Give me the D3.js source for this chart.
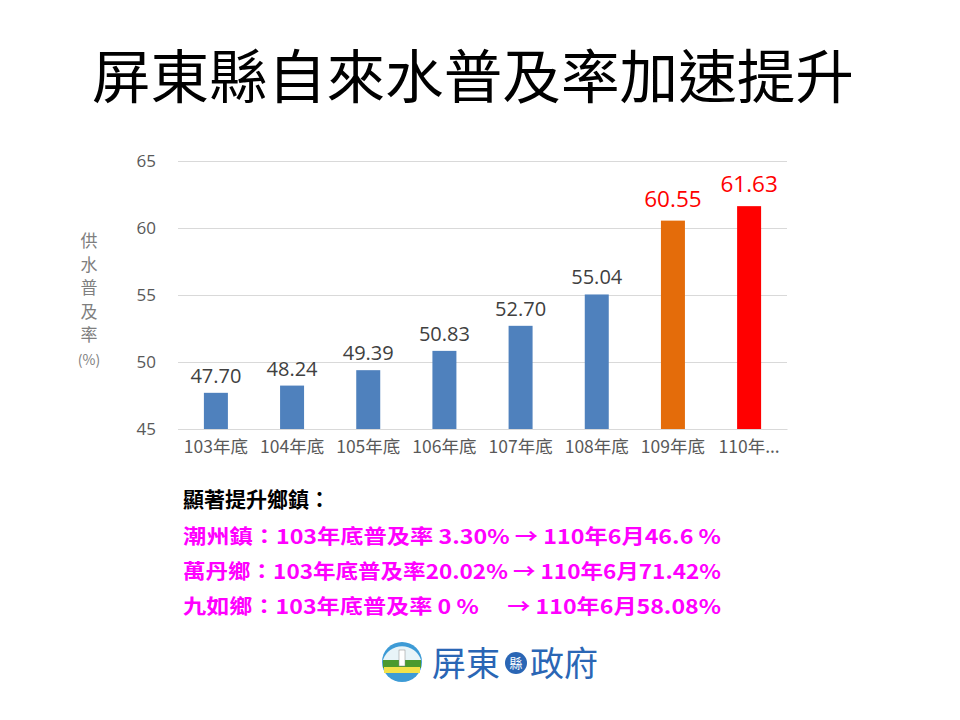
<!DOCTYPE html>
<html><head><meta charset="utf-8">
<script src="https://cdn.jsdelivr.net/npm/d3@7"></script>
<style>body{margin:0;background:#fff;}svg{display:block;}</style>
</head><body>
<script>
const categories = ["103年底","104年底","105年底","106年底","107年底","108年底","109年底","110年..."];
const values = [47.70, 48.24, 49.39, 50.83, 52.70, 55.04, 60.55, 61.63];
const barColors = ["#4f81bd","#4f81bd","#4f81bd","#4f81bd","#4f81bd","#4f81bd","#e46c0a","#ff0000"];
const labelColors = ["#404040","#404040","#404040","#404040","#404040","#404040","#ff0000","#ff0000"];
const yTicks = [45, 50, 55, 60, 65];
const title = "屏東縣自來水普及率加速提升";
const yLabelChars = ["供","水","普","及","率","(%)"];
const noteHeader = "顯著提升鄉鎮：";
const noteLines = [
  "潮州鎮：103年底普及率 3.30% → 110年6月46.6 %",
  "萬丹鄉：103年底普及率20.02% → 110年6月71.42%",
  "九如鄉：103年底普及率 0 %　  → 110年6月58.08%"
];

const W = 960, H = 720;
const svg = d3.select("body").append("svg").attr("width", W).attr("height", H);
const cjk = "'Noto Sans CJK TC','Noto Sans',sans-serif";
const latin = "'Open Sans','Noto Sans',sans-serif";

svg.append("text").attr("x", 473).attr("y", 98).attr("text-anchor","middle")
  .attr("font-family", cjk).attr("font-size", 58).attr("fill","#000")
  .attr("textLength", 762).attr("lengthAdjust","spacingAndGlyphs").text(title);

const m = {left:178, right:787, top:161, bottom:429};
const x = d3.scaleBand().domain(categories).range([m.left, m.right]).paddingInner(0.685).paddingOuter(0.34);
const y = d3.scaleLinear().domain([45, 65]).range([m.bottom, m.top]);

const g = svg.append("g");
g.append("g").attr("transform", `translate(${m.left},0)`)
  .call(d3.axisLeft(y).tickValues(yTicks).tickSize(-(m.right - m.left)).tickPadding(22))
  .call(a => a.select(".domain").remove())
  .call(a => a.selectAll("line").attr("stroke", "#d9d9d9"))
  .call(a => a.selectAll("text").attr("font-family",latin).attr("font-size",17).attr("fill","#595959"));

g.append("g").attr("transform", `translate(0,${m.bottom})`)
  .call(d3.axisBottom(x).tickSize(0).tickPadding(12))
  .call(a => a.select(".domain").attr("stroke","#d9d9d9"))
  .call(a => a.selectAll("text").attr("font-family", cjk).attr("font-size",17.5).attr("fill","#595959"));

g.selectAll("rect.bar").data(values).join("rect").attr("class","bar")
  .attr("x", (d,i) => x(categories[i])).attr("width", x.bandwidth())
  .attr("y", d => y(d)).attr("height", d => y(45) - y(d))
  .attr("fill", (d,i) => barColors[i]);

g.selectAll("text.val").data(values).join("text").attr("class","val")
  .attr("x", (d,i) => x(categories[i]) + x.bandwidth()/2).attr("y", (d,i) => y(d) - (i >= 6 ? 14 : 10))
  .attr("text-anchor","middle").attr("font-family",latin)
  .attr("font-size", (d,i) => i >= 6 ? 22.5 : 20)
  .attr("fill", (d,i) => labelColors[i]).text(d => d.toFixed(2));

svg.append("g").selectAll("text").data(yLabelChars).join("text")
  .attr("x", 89).attr("y", (d,i) => 247 + i*23.5).attr("text-anchor","middle")
  .attr("font-family", cjk).attr("font-size", (d) => d === "(%)" ? 14 : 17)
  .attr("fill","#7f7f7f").text(d => d);

svg.append("text").attr("x", 183).attr("y", 507).attr("font-family", cjk)
  .attr("font-size", 21).attr("font-weight","bold").attr("fill","#000").text(noteHeader);
svg.append("g").selectAll("text").data(noteLines).join("text")
  .attr("x", 183).attr("y", (d,i) => 544 + i*35).attr("font-family", cjk)
  .attr("font-size", 20).attr("font-weight","bold").attr("fill","#ff00ff")
  .attr("textLength", 538).attr("lengthAdjust","spacingAndGlyphs")
  .text(d => d);

// logo
const logo = svg.append("g").attr("transform","translate(402,662)");
logo.append("circle").attr("r", 20).attr("fill","#3d9bd6");
logo.append("path").attr("d","M-19,-2 A20,20 0 0,1 19,-2 Z").attr("fill","#e8f4f8");
logo.append("rect").attr("x",-19).attr("y",-2).attr("width",38).attr("height",8).attr("fill","#4a9a2e");
logo.append("rect").attr("x",-18).attr("y",5).attr("width",36).attr("height",6).attr("fill","#f2e24a");
logo.append("rect").attr("x",-3).attr("y",-12).attr("width",6).attr("height",16).attr("fill","#fff").attr("stroke","#888").attr("stroke-width",0.5);
svg.append("text").attr("x", 432).attr("y", 676).attr("font-family", cjk).attr("font-size", 34)
  .attr("fill","#2a66b5").text("屏東");
svg.append("circle").attr("cx", 516).attr("cy", 663).attr("r", 11).attr("fill","#2a66b5");
svg.append("text").attr("x", 516).attr("y", 668).attr("text-anchor","middle").attr("font-family", cjk)
  .attr("font-size", 13).attr("fill","#fff").text("縣");
svg.append("text").attr("x", 530).attr("y", 676).attr("font-family", cjk).attr("font-size", 34)
  .attr("fill","#2a66b5").text("政府");
</script>
</body></html>
